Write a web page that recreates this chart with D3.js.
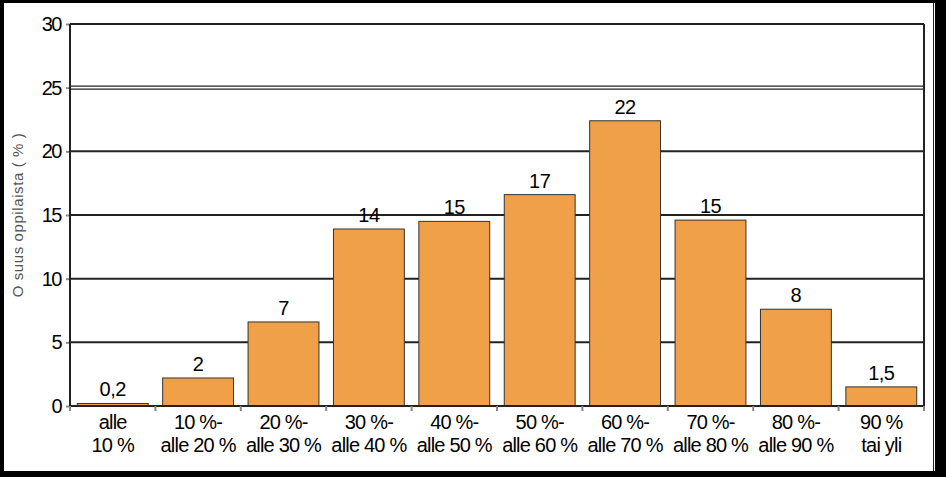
<!DOCTYPE html>
<html><head><meta charset="utf-8">
<script src="https://cdn.jsdelivr.net/npm/d3@7"></script>
<style>body{margin:0;background:#fff}svg{display:block}text{font-family:"Liberation Sans",Arial,sans-serif}</style>
</head><body>
<script>
const categories = ["alle|10 %","10 %-|alle 20 %","20 %-|alle 30 %","30 %-|alle 40 %","40 %-|alle 50 %","50 %-|alle 60 %","60 %-|alle 70 %","70 %-|alle 80 %","80 %-|alle 90 %","90 %|tai yli"];
const values = [0.2, 2.2, 6.6, 13.9, 14.5, 16.6, 22.4, 14.6, 7.6, 1.5];
const valueLabels = ["0,2","2","7","14","15","17","22","15","8","1,5"];
const yTicks = [0,5,10,15,20,25,30];
const yTitle = "O suus oppilaista ( % )";

const W=946,H=477;
const svg=d3.select("body").append("svg").attr("width",W).attr("height",H);
// outer frame
svg.append("rect").attr("x",0).attr("y",0).attr("width",W).attr("height",H).attr("fill","#000");
svg.append("rect").attr("x",4).attr("y",3).attr("width",931).attr("height",468).attr("fill","#fff");
svg.append("line").attr("x1",933.5).attr("x2",933.5).attr("y1",3).attr("y2",471).attr("stroke","#222").attr("stroke-width",1);

const m={l:70,t:24,r:924,b:406};
const x=d3.scaleBand().domain(categories).range([m.l,m.r]).paddingInner(0.17).paddingOuter(0.085);
const y=d3.scaleLinear().domain([0,30]).range([m.b,m.t]);

// gridlines
yTicks.forEach(t=>{
  if(t===25){
    [-1.5,1.5].forEach(o=>svg.append("line").attr("x1",m.l).attr("x2",m.r).attr("y1",y(t)+o).attr("y2",y(t)+o).attr("stroke","#222").attr("stroke-width",1.2));
  } else if(t>0){
    svg.append("line").attr("x1",m.l).attr("x2",m.r).attr("y1",y(t)).attr("y2",y(t)).attr("stroke","#222").attr("stroke-width",2);
  }
});
// right border
svg.append("line").attr("x1",m.r).attr("x2",m.r).attr("y1",m.t).attr("y2",m.b).attr("stroke","#222").attr("stroke-width",2);

// bars
svg.selectAll("rect.bar").data(values).enter().append("rect").attr("class","bar")
  .attr("x",(d,i)=>x(categories[i])).attr("width",x.bandwidth())
  .attr("y",d=>y(d)).attr("height",d=>y(0)-y(d))
  .attr("fill","#F0A048").attr("stroke","#333").attr("stroke-width",1);

// value labels
svg.selectAll("text.vl").data(values).enter().append("text").attr("class","vl")
  .attr("x",(d,i)=>x(categories[i])+x.bandwidth()/2).attr("y",d=>y(d)-7)
  .attr("text-anchor","middle").attr("font-size",20).attr("letter-spacing",-0.5).attr("fill","#000")
  .text((d,i)=>valueLabels[i]);

// axes
const yAxis=d3.axisLeft(y).tickValues(yTicks).tickSize(4).tickPadding(5);
const gy=svg.append("g").attr("transform",`translate(${m.l},0)`).call(yAxis);
gy.select(".domain").remove();
gy.selectAll(".tick line").attr("stroke","#888").attr("stroke-width",2);
gy.selectAll(".tick text").attr("font-size",20).attr("fill","#000").attr("letter-spacing",-1.5).attr("font-family","Liberation Sans, Arial");
svg.append("line").attr("x1",m.l).attr("x2",m.l).attr("y1",m.t).attr("y2",m.b).attr("stroke","#222").attr("stroke-width",2);
svg.append("line").attr("x1",m.l).attr("x2",m.r).attr("y1",m.b).attr("y2",m.b).attr("stroke","#222").attr("stroke-width",2);

// x ticks at boundaries
const step=x.step();
d3.range(categories.length+1).forEach(i=>{
  const bx = i===0? m.l : (i===categories.length? m.r : x(categories[i]) - (step-x.bandwidth())/2);
  svg.append("line").attr("x1",bx).attr("x2",bx).attr("y1",m.b).attr("y2",m.b+5).attr("stroke","#888").attr("stroke-width",2);
});

// x labels
categories.forEach((c,i)=>{
  const parts=c.split("|");
  const cx=x(c)+x.bandwidth()/2;
  parts.forEach((p,j)=>{
    svg.append("text").attr("x",cx).attr("y",429+j*23).attr("text-anchor","middle")
      .attr("font-size",20).attr("letter-spacing",-0.8).attr("fill","#000").text(p);
  });
});

// y title
svg.append("text").attr("transform",`translate(23,${(m.t+m.b)/2}) rotate(-90)`)
  .attr("text-anchor","middle").attr("font-size",15).attr("letter-spacing",0.6).attr("fill","#555").text(yTitle);
</script>
</body></html>
